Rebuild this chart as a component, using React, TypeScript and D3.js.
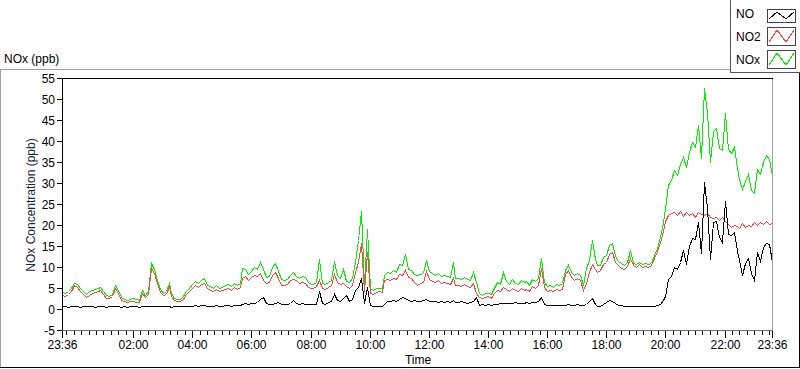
import React from "react";
import * as d3 from "d3";

// 6-minute samples, 23:36 -> 23:36 next day (10 per hour, plus the closing point)
const noValues = [
  0.6, 0.7, 0.5, 0.6, 0.7, 0.6, 0.5, 0.7, 0.6, 0.7,
  0.6, 0.5, 0.6, 0.7, 0.6, 0.5, 0.6, 0.6, 0.7, 0.6,
  0.5, 0.6, 0.5, 0.6, 0.7, 0.6, 0.5, 0.7, 0.6, 0.7,
  0.7, 0.6, 0.8, 0.6, 0.7, 0.6, 0.8, 0.5, 0.6, 0.7,
  0.6, 0.7, 0.8, 0.7, 0.8, 0.9, 0.8, 1.0, 0.9, 0.8,
  0.8, 0.7, 0.9, 0.8, 0.8, 0.9, 0.9, 0.8, 0.9, 0.9,
  1.0, 1.2, 1.4, 1.3, 1.4, 1.5, 1.6, 2.4, 2.9, 1.4,
  1.3, 1.2, 1.4, 1.6, 1.3, 1.2, 1.3, 1.5, 2.1, 1.4,
  1.3, 1.4, 1.3, 1.2, 1.1, 1.3, 1.2, 4.4, 1.4, 1.2,
  1.6, 2.0, 3.6, 2.2, 1.8, 2.6, 3.3, 1.9, 2.4, 4.5,
  5.2, 7.5, 1.4, 5.2, 1.0, 0.8, 0.7, 0.7, 0.8, 1.3,
  1.8, 2.0, 2.1, 1.9, 2.3, 2.9, 2.6, 2.1, 2.0, 2.1,
  2.0, 1.9, 2.1, 2.4, 1.9, 2.0, 1.8, 1.7, 1.8, 1.7,
  1.8, 1.6, 2.2, 1.7, 1.6, 1.8, 1.7, 1.5, 1.6, 1.9,
  2.9, 1.0, 1.2, 0.9, 1.1, 1.0, 1.2, 1.3, 1.4, 1.5,
  1.5, 1.4, 1.5, 1.6, 1.4, 1.5, 1.5, 1.6, 1.4, 1.7,
  1.7, 1.8, 2.9, 1.2, 1.0, 0.9, 1.0, 0.9, 1.0, 1.0,
  1.0, 1.1, 1.0, 0.9, 1.1, 1.0, 0.9, 1.2, 1.8, 2.7,
  1.3, 0.8, 0.7, 1.2, 1.6, 2.1, 2.0, 1.4, 1.0, 0.9,
  0.8, 0.7, 0.8, 0.6, 0.7, 0.6, 0.7, 0.6, 0.7, 0.6,
  0.8, 0.9, 1.3, 2.2, 3.0, 7.1, 7.8, 9.9, 9.6, 11.2,
  14.1, 10.8, 15.0, 17.0, 16.7, 20.7, 13.4, 30.2, 24.1, 11.8,
  20.7, 21.0, 17.2, 16.0, 25.8, 17.8, 17.6, 18.4, 13.7, 11.7,
  8.2, 10.9, 12.1, 8.6, 7.0, 13.5, 11.4, 14.8, 15.7, 15.5, 11.3,
];

const no2Values = [
  3.3, 3.1, 3.5, 4.2, 5.6, 5.2, 4.4, 3.6, 2.9, 3.4,
  3.9, 4.1, 4.3, 4.5, 3.6, 2.7, 2.6, 3.0, 4.9, 3.8,
  2.2, 1.8, 1.6, 1.8, 1.9, 1.7, 1.6, 3.9, 2.8, 3.5,
  9.8, 8.6, 6.2, 4.0, 3.3, 3.6, 5.4, 3.0, 2.2, 1.9,
  1.8, 2.3, 3.6, 4.2, 5.1, 5.6, 5.3, 5.9, 6.1, 4.9,
  4.6, 4.3, 4.7, 4.2, 4.5, 4.8, 5.1, 4.6, 5.2, 4.7,
  5.2, 7.4, 7.8, 6.9, 7.6, 8.2, 7.9, 8.6, 6.8, 6.2,
  6.4, 8.2, 8.7, 7.4, 5.8, 5.6, 5.9, 6.8, 7.1, 6.9,
  6.1, 6.5, 6.3, 5.2, 4.9, 5.0, 5.4, 6.9, 5.1, 4.8,
  5.2, 5.6, 8.3, 6.4, 5.9, 6.3, 5.4, 5.1, 5.6, 8.8,
  11.2, 15.7, 4.2, 13.6, 3.8, 3.6, 4.1, 4.3, 4.0, 6.8,
  7.2, 6.8, 7.4, 7.1, 8.3, 8.0, 9.2, 7.6, 7.3, 6.4,
  5.8, 6.2, 6.5, 9.0, 7.2, 6.6, 6.4, 6.8, 6.1, 6.5,
  6.2, 5.9, 7.3, 5.8, 5.6, 5.4, 5.9, 5.5, 5.2, 6.3,
  3.8, 2.9, 2.6, 2.8, 3.0, 2.7, 3.9, 4.6, 4.3, 5.2,
  4.8, 4.4, 5.1, 4.6, 4.3, 4.9, 4.5, 4.7, 4.2, 5.4,
  5.0, 5.6, 9.7, 5.2, 4.4, 4.6, 4.2, 4.7, 4.5, 4.8,
  8.4, 9.3, 7.6, 7.0, 7.4, 6.8, 4.6, 6.2, 8.9, 10.8,
  9.6, 8.9, 9.2, 10.8, 11.2, 13.0, 13.6, 11.2, 10.4, 9.7,
  9.5, 10.2, 12.1, 10.4, 10.1, 10.6, 9.9, 10.3, 10.1, 10.4,
  12.1, 13.8, 15.9, 18.6, 21.0, 22.4, 22.8, 23.1, 22.4, 23.4,
  22.1, 23.0, 22.4, 22.8, 21.9, 23.2, 22.6, 22.4, 22.9, 21.8,
  21.6, 22.0, 21.2, 21.8, 20.9, 20.2, 19.6, 20.1, 19.8, 19.3,
  20.4, 19.6, 20.1, 19.8, 20.6, 19.9, 20.8, 20.2, 20.9, 20.3, 20.5,
];

const noxValues = [
  4.0, 3.8, 4.2, 5.0, 6.3, 6.0, 5.1, 4.3, 3.6, 4.2,
  4.5, 4.7, 4.9, 5.2, 4.2, 3.3, 3.2, 3.6, 5.8, 4.5,
  2.8, 2.4, 2.2, 2.5, 2.6, 2.3, 2.2, 4.6, 3.4, 4.2,
  10.9, 9.6, 7.0, 4.7, 3.9, 4.2, 6.2, 3.7, 2.7, 2.4,
  2.4, 3.0, 4.3, 5.0, 6.0, 6.6, 6.3, 7.0, 7.4, 5.7,
  5.4, 5.0, 5.6, 5.0, 5.3, 5.7, 6.0, 5.4, 6.1, 5.6,
  6.2, 9.8, 9.6, 8.4, 9.1, 9.9, 9.6, 11.3, 9.6, 7.6,
  7.8, 10.0, 11.0, 9.0, 7.1, 6.9, 7.1, 8.2, 8.7, 7.8,
  7.4, 7.8, 7.6, 6.4, 5.9, 6.0, 6.5, 11.9, 6.3, 5.9,
  6.4, 7.0, 11.5, 8.0, 7.3, 9.5, 6.6, 6.5, 7.4, 11.3,
  16.5, 23.3, 5.6, 19.0, 4.9, 4.5, 5.0, 5.1, 4.9, 8.2,
  8.9, 8.5, 9.3, 8.9, 10.6, 10.4, 13.0, 9.6, 9.3, 8.3,
  8.0, 8.3, 8.6, 11.7, 9.1, 8.5, 8.1, 8.5, 7.8, 8.2,
  7.9, 7.6, 11.1, 7.5, 7.4, 7.1, 7.6, 7.2, 6.9, 8.8,
  6.5, 3.8, 3.4, 3.7, 3.8, 3.5, 5.0, 6.4, 5.9, 8.9,
  6.6, 6.0, 7.2, 6.3, 5.9, 7.0, 6.4, 6.7, 5.8, 7.1,
  6.6, 7.3, 12.1, 6.5, 5.5, 5.7, 5.3, 6.0, 5.6, 6.1,
  9.4, 10.5, 8.7, 8.1, 8.6, 8.0, 5.6, 9.7, 11.6, 16.4,
  11.8, 10.5, 10.5, 12.3, 12.8, 15.2, 15.6, 12.6, 11.4, 10.9,
  10.5, 11.3, 14.1, 11.0, 10.8, 11.2, 10.6, 10.9, 10.8, 11.0,
  12.9, 14.6, 17.2, 20.8, 24.0, 29.5, 30.6, 33.0, 32.0, 34.6,
  36.2, 33.8, 37.4, 39.8, 38.6, 43.9, 36.0, 52.6, 47.0, 35.0,
  42.3, 43.0, 38.4, 37.8, 46.7, 38.0, 37.2, 38.5, 33.5, 31.0,
  28.6, 30.5, 32.2, 28.4, 27.6, 33.4, 32.2, 35.0, 36.6, 35.8, 31.8,
];

const seriesNames = ["NO", "NO2", "NOx"];
const seriesColors = ["#000000", "#ff4444", "#00f000"];
const xTickLabels = ["23:36", "02:00", "04:00", "06:00", "08:00", "10:00", "12:00", "14:00", "16:00", "18:00", "20:00", "22:00", "23:36"];
const yTickValues = [-5, 0, 5, 10, 15, 20, 25, 30, 35, 40, 45, 50, 55];
const sampleMinutes = 6;

const W = 800;
const H = 369;
const plot = { left: 62, right: 772, top: 78, bottom: 330 };
const font = "'Liberation Sans', Arial, sans-serif";

const start = new Date(2021, 0, 1, 23, 36);
const end = d3.timeHour.offset(start, 24);

function labelToDate(label: string, i: number) {
  if (i === 0) return start;
  if (i === xTickLabels.length - 1) return end;
  const [h, m] = label.split(":").map(Number);
  return new Date(2021, 0, 2, h, m);
}

export default function App() {
  const x = d3.scaleTime().domain([start, end]).range([plot.left, plot.right]);
  const y = d3.scaleLinear().domain([-5, 55]).range([plot.bottom, plot.top]);

  const series = [noValues, no2Values, noxValues];
  const line = d3
    .line<number>()
    .x((_, i) => Math.round(x(d3.timeMinute.offset(start, i * sampleMinutes)) as number) + 0.5)
    .y((d) => Math.round(y(d)) + 0.5);

  const minorTicks = d3.timeMinute.every(15)!.range(start, end).concat([end]);
  const majorTicks = xTickLabels.map((l, i) => ({ label: l, date: labelToDate(l, i) }));

  const legendBoxes = [
    { y0: 9, y1: 22 },
    { y0: 27, y1: 45 },
    { y0: 50, y1: 68 },
  ];

  return (
    <svg
      width={W}
      height={H}
      style={{ position: "absolute", left: 0, top: 0, background: "#fff" }}
      fontFamily={font}
    >
      {/* outer panel */}
      <line x1={0} x2={730} y1={69.5} y2={69.5} stroke="#a0a0a0" />
      <line x1={0.5} x2={0.5} y1={69} y2={368} stroke="#a0a0a0" />
      <line x1={0} x2={800} y1={367.5} y2={367.5} stroke="#000" />
      <line x1={799.5} x2={799.5} y1={72} y2={368} stroke="#000" />
      <text x={4} y={63} fontSize={12} fill="#000">NOx (ppb)</text>

      {/* legend */}
      <rect x={730.5} y={-1} width={70} height={73.5} fill="#fff" stroke="#555" />
      {seriesNames.map((name, i) => {
        const b = legendBoxes[i];
        const pts: [number, number][] = [
          [769, b.y1 - 3],
          [777, b.y0 + 3],
          [786, b.y1 - 3],
          [794, b.y0 + 3],
        ];
        return (
          <g key={name}>
            <text x={736} y={b.y1 - 4} fontSize={12} fill="#000">{name}</text>
            <rect x={767.5} y={b.y0 + 0.5} width={28} height={b.y1 - b.y0} fill="#fff" stroke="#444" />
            <path d={d3.line()(pts) ?? ""} fill="none" stroke={seriesColors[i]} strokeWidth={1} shapeRendering="crispEdges" />
          </g>
        );
      })}

      {/* series */}
      <g shapeRendering="crispEdges">
        {[2, 1, 0].map((i) => (
          <path key={i} d={line(series[i]) ?? ""} fill="none" stroke={seriesColors[i]} strokeWidth={1} />
        ))}
      </g>

      {/* plot frame */}
      <line x1={plot.left} x2={plot.right + 1} y1={plot.top + 0.5} y2={plot.top + 0.5} stroke="#000" />
      <line x1={plot.left + 0.5} x2={plot.left + 0.5} y1={plot.top} y2={plot.bottom + 1} stroke="#000" />
      <line x1={plot.right + 0.5} x2={plot.right + 0.5} y1={plot.top + 1} y2={plot.bottom + 1} stroke="#a0a0a0" />
      <line x1={plot.left} x2={plot.right + 1} y1={plot.bottom + 0.5} y2={plot.bottom + 0.5} stroke="#707070" />

      {/* y axis */}
      {yTickValues.map((v) => {
        const yy = Math.round(y(v)) + 0.5;
        return (
          <g key={v}>
            <line x1={57} x2={62} y1={yy} y2={yy} stroke="#000" />
            <text x={55} y={yy + 4} fontSize={12} textAnchor="end" fill="#000">{v}</text>
          </g>
        );
      })}
      <text
        transform={`translate(35,${(plot.top + plot.bottom) / 2 + 1}) rotate(-90)`}
        fontSize={12}
        textAnchor="middle"
        fill="#1a2340"
      >
        NOx Concentration (ppb)
      </text>

      {/* x axis */}
      {minorTicks.map((d, i) => {
        const xx = Math.round(x(d)) + 0.5;
        return <line key={i} x1={xx} x2={xx} y1={331} y2={335} stroke="#000" />;
      })}
      {majorTicks.map((t, i) => {
        const xx = Math.round(x(t.date)) + 0.5;
        return (
          <g key={i}>
            <line x1={xx} x2={xx} y1={331} y2={338} stroke="#000" />
            <text x={xx} y={349} fontSize={12} textAnchor="middle" fill="#000">{t.label}</text>
          </g>
        );
      })}
      <text x={(plot.left + plot.right) / 2 + 1} y={364} fontSize={12} textAnchor="middle" fill="#000">Time</text>
    </svg>
  );
}
